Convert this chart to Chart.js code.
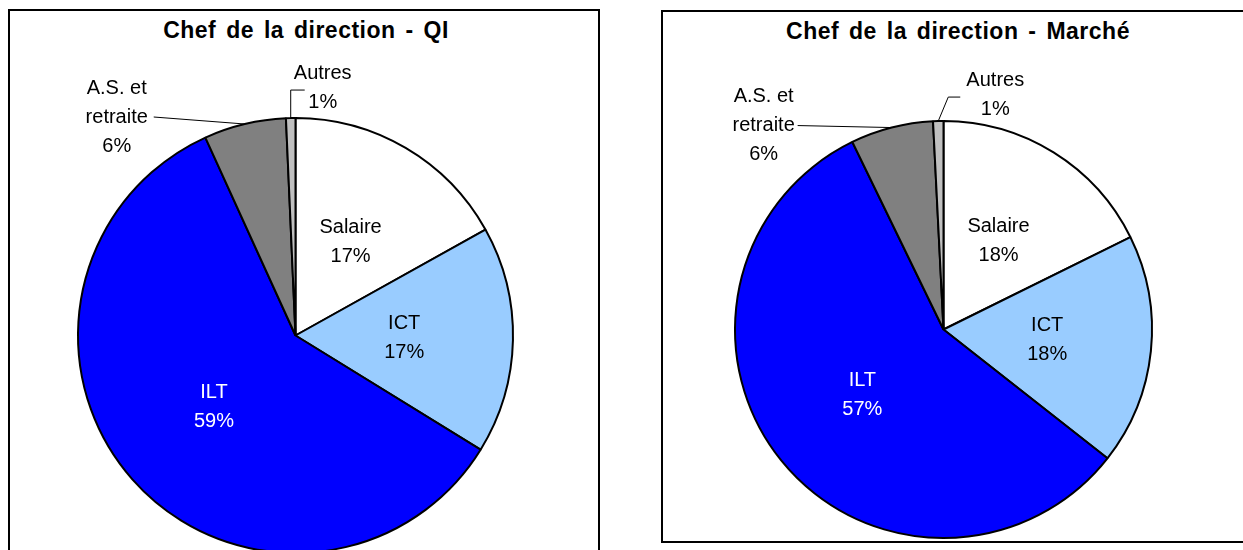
<!DOCTYPE html>
<html>
<head>
<meta charset="utf-8">
<script src="https://cdn.jsdelivr.net/npm/chart.js@4/dist/chart.umd.min.js"></script>
<style>
  html, body { margin:0; padding:0; background:#fff; }
  body { width:1243px; height:550px; overflow:hidden; position:relative; font-family:"Liberation Sans", Arial, sans-serif; }
  .cadre { position:absolute; border:2px solid #000; box-sizing:border-box; }
  .titre { position:absolute; font-weight:bold; font-size:23px; letter-spacing:0.5px; word-spacing:3px; color:#000; transform:translateX(-50%); white-space:nowrap; }
  canvas { position:absolute; }
</style>
</head>
<body>
<div class="cadre" style="left:8px; top:9px; width:592px; height:600px;"></div>
<div class="cadre" style="left:661px; top:10px; width:620px; height:533px;"></div>
<div class="titre" id="titreQI" style="left:306px; top:17px;"></div>
<div class="titre" id="titreMarche" style="left:958px; top:18px;"></div>
<canvas id="graficoQI" width="591" height="560" style="left:8px; top:9px;"></canvas>
<canvas id="graficoMarche" width="591" height="540" style="left:662px; top:10px;"></canvas>
<script>
const categorias = [['Salaire'], ['ICT'], ['ILT'], ['A.S. et', 'retraite'], ['Autres']];
const valoresQI = [16.9, 16.9, 59.4, 6.1, 0.7];
const valoresMarche = [17.7, 17.9, 57.2, 6.4, 0.8];
const tituloQI = 'Chef de la direction - QI';
const tituloMarche = 'Chef de la direction - Marché';

const colores = ['#FFFFFF', '#99CCFF', '#0000FF', '#808080', '#C0C0C0'];
const coloresTexto = ['#000', '#000', '#fff', '#000', '#000'];

document.getElementById('titreQI').textContent = tituloQI;
document.getElementById('titreMarche').textContent = tituloMarche;

// etiquetas: dentro a media distancia, o fuera con linea guia
const etiquetas = {
  id: 'etiquetas',
  afterDatasetsDraw(chart, args, opts) {
    const ctx = chart.ctx;
    const meta = chart.getDatasetMeta(0);
    const datos = chart.data.datasets[0].data;
    const total = datos.reduce((a, b) => a + b, 0);
    ctx.save();
    ctx.font = '20px "Liberation Sans", Arial, sans-serif';
    ctx.textAlign = 'center';
    ctx.textBaseline = 'middle';
    meta.data.forEach((arc, i) => {
      const p = arc.getProps(['x', 'y', 'startAngle', 'endAngle', 'outerRadius'], true);
      const medio = (p.startAngle + p.endAngle) / 2;
      const lineas = categorias[i].concat([Math.round(datos[i] / total * 100) + '%']);
      const fuera = opts.fuera[i];
      let cx, cy;
      if (fuera) {
        const bx = p.x + Math.cos(medio) * p.outerRadius;
        const by = p.y + Math.sin(medio) * p.outerRadius;
        ctx.strokeStyle = '#000';
        ctx.lineWidth = 1;
        ctx.beginPath();
        ctx.moveTo(bx, by);
        if (fuera.codo) ctx.lineTo(bx + fuera.codo[0], by + fuera.codo[1]);
        ctx.lineTo(bx + fuera.fin[0], by + fuera.fin[1]);
        ctx.stroke();
        cx = bx + fuera.texto[0];
        cy = by + fuera.texto[1];
      } else {
        cx = p.x + Math.cos(medio) * p.outerRadius * 0.5;
        cy = p.y + Math.sin(medio) * p.outerRadius * 0.5;
      }
      ctx.fillStyle = coloresTexto[i];
      const alto = 29;
      lineas.forEach((t, k) => {
        ctx.fillText(t, cx, cy + (k - (lineas.length - 1) / 2) * alto);
      });
    });
    ctx.restore();
  }
};

function dibujar(id, valores, relleno, fuera) {
  return new Chart(document.getElementById(id), {
    type: 'pie',
    data: {
      labels: categorias.map(c => c.join(' ')),
      datasets: [{
        data: valores,
        backgroundColor: colores,
        borderColor: '#000',
        borderWidth: 2
      }]
    },
    options: {
      responsive: false,
      animation: false,
      layout: { padding: relleno },
      plugins: {
        legend: { display: false },
        tooltip: { enabled: false },
        title: { display: false },
        etiquetas: { fuera }
      }
    },
    plugins: [etiquetas]
  });
}

dibujar('graficoQI', valoresQI,
  { left: 69, top: 108, right: 85, bottom: 15 },
  { 3: { fin: [-91, -7], texto: [-128, -7] },
    4: { codo: [0, -28], fin: [14, -28], texto: [32, -30] } });

dibujar('graficoMarche', valoresMarche,
  { left: 72, top: 110, right: 100, bottom: 11 },
  { 3: { fin: [-94, -2], texto: [-128, -2] },
    4: { codo: [10, -24], fin: [22, -24], texto: [57, -26] } });
</script>
</body>
</html>
